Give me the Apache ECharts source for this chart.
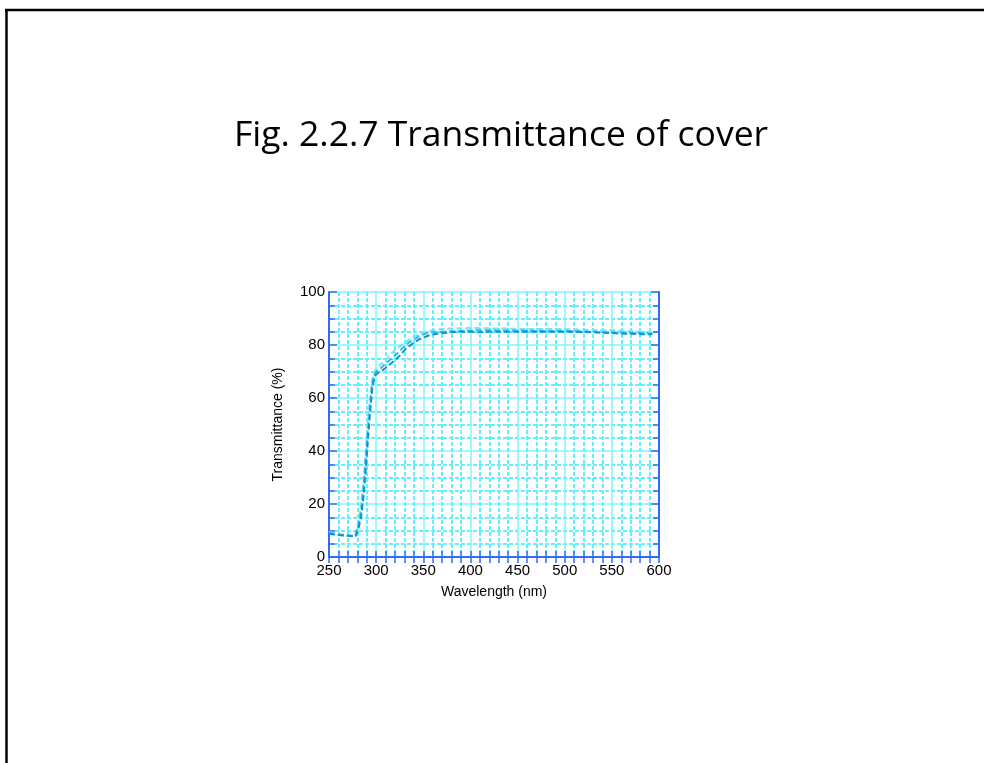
<!DOCTYPE html>
<html>
<head>
<meta charset="utf-8">
<script src="https://cdn.jsdelivr.net/npm/echarts@6/dist/echarts.min.js"></script>
<style>
html,body{margin:0;padding:0;background:#fff;}
#chart{width:984px;height:763px;}
</style>
</head>
<body>
<div id="chart"></div>
<script>
const titleText = 'Fig. 2.2.7 Transmittance of cover';
const xAxisName = 'Wavelength (nm)';
const yAxisName = 'Transmittance (%)';
const xTicks = { min: 250, max: 600, interval: 50 };
const yTicks = { min: 0, max: 100, interval: 20 };

const wavelengths = [250,255,260,265,270,275,278,281,284,287,290,293,296,299,302,306,310,315,320,325,330,335,340,345,350,355,360,370,380,390,400,410,420,430,440,450,460,470,480,490,500,510,520,530,540,550,560,570,580,590,593];

const sampleA = [8.8,8.5,8.3,8.1,8.0,7.8,7.6,10.5,15,24,38,52,64,68.5,69.5,70.3,71.3,72.8,74.3,76,78,79.6,80.8,82,82.8,83.5,84,84.5,84.8,85,85,84.8,85,85,85,85,85,85,85,85,85,85,84.9,84.8,84.6,84.5,84.3,84.2,84.1,84,84.2];
const sampleB = [9.2,8.8,8.5,8.3,8.1,7.9,8.0,11.5,17,27,42,55,66,69.5,70.5,71.6,73,74.5,76,77.8,79.5,81,82,83.2,84,84.5,84.8,85,85.2,85.3,85.5,85.6,85.6,85.5,85.5,85.5,85.4,85.3,85.3,85.3,85.3,85.2,85.1,85,84.8,84.8,84.7,84.6,84.5,84.3,84.5];
const sampleC = [9.5,9,8.6,8.4,8.2,8,8.5,13,19,30,45,58,67,70.5,71.8,73,74.3,76.3,78,79.5,80.8,82,83,84,84.6,85.2,85.6,86,86.2,86.3,86.4,86.4,86.3,86.2,86.2,86.1,86,86,86,86,86,85.9,85.8,85.7,85.6,85.6,85.4,85.2,85,84.6,84.8];

const seriesNames = ['Sample A','Sample B','Sample C'];
const seriesValues = [sampleA, sampleB, sampleC];
const seriesColors = ['#1690d4', '#2cbcec', '#70e6fa'];

const gridCyan = '#7ef6ff';
const minorCyan = '#62f0ff';
const axisBlue = '#2f6cf0';
const labelFont = 'Liberation Sans';

const chart = echarts.init(document.getElementById('chart'));

function pairs(vals){ return wavelengths.map((w,i)=>[w, vals[i]]); }

const option = {
  backgroundColor: '#fff',
  animation: false,
  graphic: [
    { type:'line', shape:{x1:5, y1:10, x2:984, y2:10}, style:{stroke:'#000', lineWidth:2.5}, silent:true },
    { type:'line', shape:{x1:6.5, y1:9, x2:6.5, y2:763}, style:{stroke:'#000', lineWidth:2.5}, silent:true },
    { type:'text', x:501, y:136, style:{ text:titleText, fontFamily:'Open Sans', fontSize:35.5, fontWeight:500, fill:'#000', align:'center', verticalAlign:'middle' }, silent:true }
  ],
  grid: { left: 329, right: 325, top: 292, bottom: 206, containLabel:false },
  xAxis: [
    {
      type:'value', position:'bottom', min:xTicks.min, max:xTicks.max, interval:xTicks.interval,
      name:xAxisName, nameLocation:'middle', nameGap:28,
      nameTextStyle:{ fontFamily:labelFont, fontSize:14, color:'#000' },
      axisLine:{ show:true, lineStyle:{ color:axisBlue, width:2 } },
      axisTick:{ show:true, inside:true, length:6, lineStyle:{ color:axisBlue, width:1.5 } },
      minorTick:{ show:true, splitNumber:5, length:6, lineStyle:{ color:axisBlue, width:1.5 } },
      axisLabel:{ fontFamily:labelFont, fontSize:15, color:'#000', margin:6 },
      splitLine:{ show:true, lineStyle:{ color:gridCyan, width:1.5 } },
      minorSplitLine:{ show:true, lineStyle:{ color:minorCyan, width:2, type:[4,2] } }
    },
    {
      type:'value', position:'top', min:xTicks.min, max:xTicks.max, interval:xTicks.interval,
      axisLine:{ show:true, lineStyle:{ color:axisBlue, width:2 } },
      axisTick:{ show:true, inside:true, length:6, lineStyle:{ color:axisBlue, width:1.5 } },
      minorTick:{ show:true, splitNumber:5, length:6, lineStyle:{ color:axisBlue, width:1.5 } },
      axisLabel:{ show:false },
      splitLine:{ show:false }
    }
  ],
  yAxis: [
    {
      type:'value', position:'left', min:yTicks.min, max:yTicks.max, interval:yTicks.interval,
      name:yAxisName, nameLocation:'middle', nameGap:44, nameRotate:90,
      nameTextStyle:{ fontFamily:labelFont, fontSize:14, color:'#000' },
      axisLine:{ show:true, lineStyle:{ color:axisBlue, width:2 } },
      axisTick:{ show:true, inside:true, length:8, lineStyle:{ color:axisBlue, width:1.5 } },
      minorTick:{ show:true, splitNumber:4, length:6, lineStyle:{ color:axisBlue, width:1.5 } },
      axisLabel:{ fontFamily:labelFont, fontSize:15, color:'#000', margin:4 },
      splitLine:{ show:true, lineStyle:{ color:gridCyan, width:1.5 } },
      minorSplitLine:{ show:true, lineStyle:{ color:minorCyan, width:2, type:[4,2] } }
    },
    {
      type:'value', position:'right', min:yTicks.min, max:yTicks.max, interval:yTicks.interval,
      axisLine:{ show:true, lineStyle:{ color:axisBlue, width:2 } },
      axisTick:{ show:true, inside:true, length:8, lineStyle:{ color:axisBlue, width:1.5 } },
      minorTick:{ show:true, splitNumber:4, length:6, lineStyle:{ color:axisBlue, width:1.5 } },
      axisLabel:{ show:false },
      splitLine:{ show:false }
    }
  ],
  series: seriesValues.map((vals, i) => ({
    type:'line', name:seriesNames[i], xAxisIndex:0, yAxisIndex:0,
    data: pairs(vals), showSymbol:false, smooth:false,
    lineStyle:{ color:seriesColors[i], width:2, type:[6,3] },
    z: 3 - i
  }))
};
chart.setOption(option);
</script>
</body>
</html>
